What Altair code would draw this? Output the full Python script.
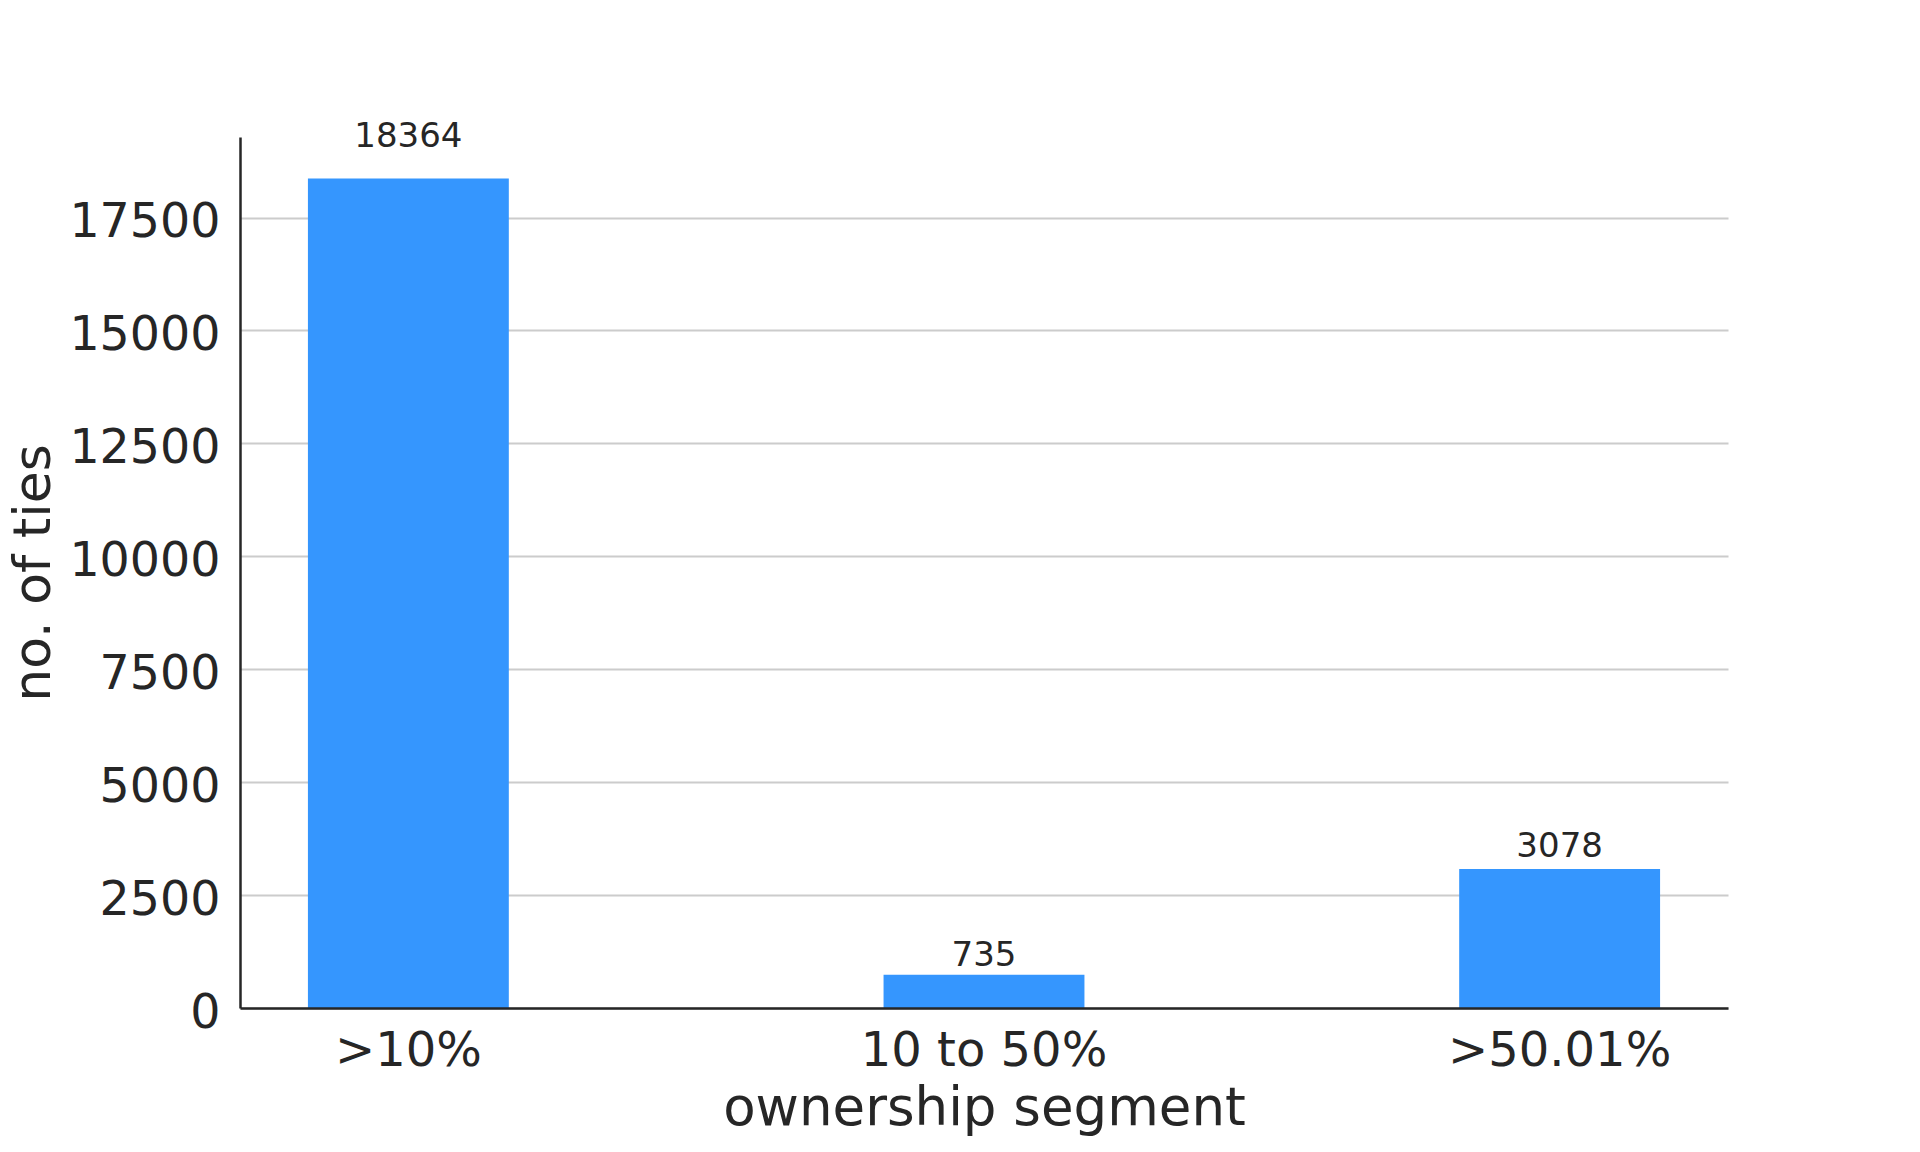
import altair as alt
import pandas as pd

segments = [">10%", "10 to 50%", ">50.01%"]
ties = [18364, 735, 3078]
y_ticks = [0, 2500, 5000, 7500, 10000, 12500, 15000, 17500]

df = pd.DataFrame({"segment": segments, "ties": ties})
ymax = max(ties) * 1.05

TEXT = "#262626"
FONT = "DejaVu Sans"

x_enc = alt.X(
    "segment:N",
    sort=segments,
    title="ownership segment",
    scale=alt.Scale(paddingInner=0.651, paddingOuter=0.118),
    axis=alt.Axis(
        labelAngle=0, labelFontSize=48, labelPadding=19, labelLimit=600, ticks=False, grid=False,
        domainColor=TEXT, domainWidth=2.5, labelColor=TEXT,
        titleFontSize=53, titleFontWeight="normal", titleColor=TEXT,
        titleY=116, titleBaseline="alphabetic", zindex=1,
    ),
)

y_axis = alt.Axis(
    values=y_ticks, format="d", labelFontSize=47.5, labelPadding=20, labelOffset=5,
    labelLimit=400, ticks=False,
    gridColor="#cccccc", gridWidth=2, domainColor=TEXT, domainWidth=2.5,
    labelColor=TEXT, titleFontSize=52, titleFontWeight="normal", titleColor=TEXT,
    titleX=-191, titleBaseline="alphabetic",
)
y_scale = alt.Scale(domain=[0, ymax], nice=False)

bars = alt.Chart(df).mark_bar(color="#3596FE").encode(
    x=x_enc,
    y=alt.Y("ties:Q", title="no. of ties", scale=y_scale, axis=y_axis),
)

labels = alt.Chart(df).transform_calculate(
    label_y="datum.ties * 1.028"
).mark_text(baseline="alphabetic", dy=-8, fontSize=34, color=TEXT, font=FONT).encode(
    x=x_enc,
    y=alt.Y("label_y:Q", title="no. of ties", scale=y_scale, axis=y_axis),
    text=alt.Text("ties:Q", format="d"),
)

chart = alt.layer(bars, labels).properties(
    width=1488,
    height=871,
    autosize=alt.AutoSizeParams(type="none"),
    padding={"left": 240, "top": 137, "right": 192, "bottom": 144},
    background="white",
).configure_view(stroke=None).configure_axis(
    labelFont=FONT, titleFont=FONT
).configure_text(font=FONT)

chart.save("out.html", embed_options={"renderer": "svg", "actions": False})
